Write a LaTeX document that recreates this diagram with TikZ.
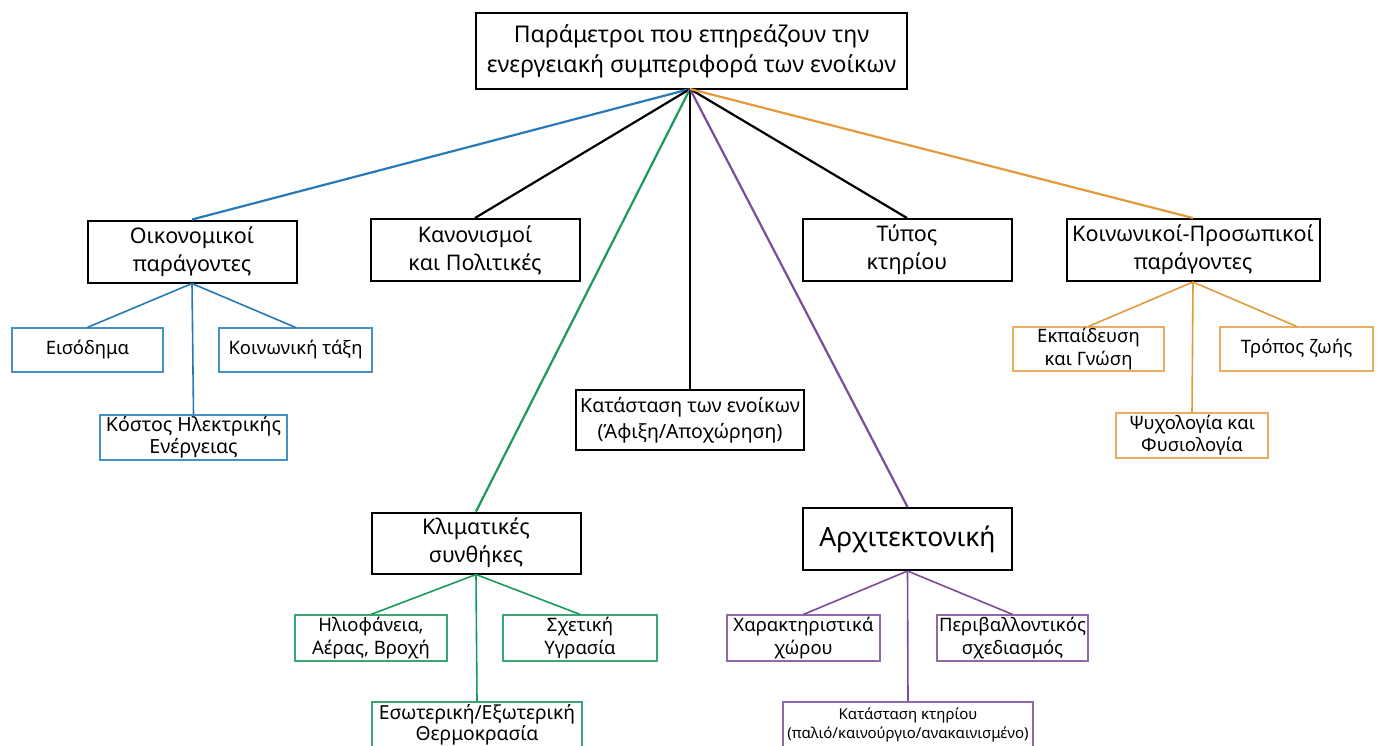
\documentclass[tikz,border=0pt]{standalone}
\usepackage{fontspec}
\setmainfont{Noto Sans}
\definecolor{blueC}{RGB}{40,122,182}
\definecolor{blueB}{RGB}{70,145,195}
\definecolor{greenC}{RGB}{26,154,92}
\definecolor{greenB}{RGB}{60,165,115}
\definecolor{purpleC}{RGB}{125,74,156}
\definecolor{purpleB}{RGB}{145,105,170}
\definecolor{orangeC}{RGB}{226,154,60}
\definecolor{orangeB}{RGB}{230,175,100}
\tikzset{
  mainbox/.style={draw=black, line width=2pt, align=center, inner sep=0pt, fill=white,
    font=\fontsize{21.5}{28}\selectfont},
  subbox/.style={draw=#1, line width=1.2pt, align=center, inner sep=0pt, fill=white,
    font=\fontsize{18.5}{22.5}\selectfont},
  link/.style={draw=#1, line width=2.2pt},
  sublink/.style={draw=#1, line width=1.6pt}
}
\begin{document}
\begin{tikzpicture}[x=1pt,y=-1pt]
\clip (0,0) rectangle (1378,745);
\fill[white] (0,0) rectangle (1378,745);
% top
\node[mainbox, minimum width=431pt, minimum height=76pt, font=\fontsize{23}{30}\selectfont] (top) at (691.5,51)
  {Παράμετροι που επηρεάζουν την\\ενεργειακή συμπεριφορά των ενοίκων};
% level 2
\node[mainbox, minimum width=209pt, minimum height=62pt] (oik) at (192,251.5) {Οικονομικοί\\παράγοντες};
\node[mainbox, minimum width=209pt, minimum height=62pt] (kan) at (475,250) {Κανονισμοί\\και Πολιτικές};
\node[mainbox, minimum width=209pt, minimum height=62pt] (typ) at (907,250) {Τύπος\\κτηρίου};
\node[mainbox, minimum width=253pt, minimum height=62pt] (koin) at (1193,250) {Κοινωνικοί-Προσωπικοί\\παράγοντες};
\node[mainbox, minimum width=228pt, minimum height=60pt, font=\fontsize{19.5}{26}\selectfont] (kat) at (690,420) {Κατάσταση των ενοίκων\\(Άφιξη/Αποχώρηση)};
\node[mainbox, minimum width=209pt, minimum height=61pt] (klim) at (476,543) {Κλιματικές\\συνθήκες};
\node[mainbox, minimum width=209pt, minimum height=62pt, font=\fontsize{26.5}{30}\selectfont] (arch) at (907.5,539) {Αρχιτεκτονική};
% level 3 - economic
\node[subbox=blueB, minimum width=151pt, minimum height=44pt] (eis) at (87.5,350) {Εισόδημα};
\node[subbox=blueB, minimum width=153pt, minimum height=44pt] (taxi) at (295.5,350) {Κοινωνική τάξη};
\node[subbox=blueB, minimum width=187pt, minimum height=45pt, font=\fontsize{19.5}{22.5}\selectfont] (kost) at (193.5,437.5) {Κόστος Ηλεκτρικής\\Ενέργειας};
% social
\node[subbox=orangeB, minimum width=151pt, minimum height=44pt] (ekp) at (1088.5,349) {Εκπαίδευση\\και Γνώση};
\node[subbox=orangeB, minimum width=153pt, minimum height=44pt] (trop) at (1296.5,349) {Τρόπος ζωής};
\node[subbox=orangeB, minimum width=152pt, minimum height=45pt] (psy) at (1192,435.5) {Ψυχολογία και\\Φυσιολογία};
% climate
\node[subbox=greenB, minimum width=152pt, minimum height=46pt] (ilio) at (371,638) {Ηλιοφάνεια,\\Αέρας, Βροχή};
\node[subbox=greenB, minimum width=154pt, minimum height=46pt] (ygr) at (580,638) {Σχετική\\Υγρασία};
\node[subbox=greenB, minimum width=210pt, minimum height=46pt, font=\fontsize{19.3}{21}\selectfont] (therm) at (477,725) {Εσωτερική/Εξωτερική\\Θερμοκρασία};
% architecture
\node[subbox=purpleB, minimum width=153pt, minimum height=46pt] (xar) at (803.5,638) {Χαρακτηριστικά\\χώρου};
\node[subbox=purpleB, minimum width=151pt, minimum height=46pt] (periv) at (1012.5,638) {Περιβαλλοντικός\\σχεδιασμός};
\node[subbox=purpleB, minimum width=250pt, minimum height=46pt, font=\fontsize{15}{19}\selectfont] (ktir) at (908,725) {Κατάσταση κτηρίου\\(παλιό/καινούργιο/ανακαινισμένο)};
% main links
\coordinate (hub) at (690,89);
\draw[link=blueC] (hub) -- (oik.north);
\draw[link=black] (hub) -- (kan.north);
\draw[link=greenC] (hub) -- (klim.north);
\draw[link=black] (hub) -- (kat.north);
\draw[link=purpleC] (hub) -- (arch.north);
\draw[link=black] (hub) -- (typ.north);
\draw[link=orangeC] (hub) -- (koin.north);
% sub links
\draw[sublink=blueC] (oik.south) -- (eis.north);
\draw[sublink=blueC] (oik.south) -- (taxi.north);
\draw[sublink=blueC] (oik.south) -- (kost.north);
\draw[sublink=orangeC] (koin.south) -- (ekp.north);
\draw[sublink=orangeC] (koin.south) -- (trop.north);
\draw[sublink=orangeC] (koin.south) -- (psy.north);
\draw[sublink=greenC] (klim.south) -- (ilio.north);
\draw[sublink=greenC] (klim.south) -- (ygr.north);
\draw[sublink=greenC] (klim.south) -- (therm.north);
\draw[sublink=purpleC] (arch.south) -- (xar.north);
\draw[sublink=purpleC] (arch.south) -- (periv.north);
\draw[sublink=purpleC] (arch.south) -- (ktir.north);
\end{tikzpicture}
\end{document}
